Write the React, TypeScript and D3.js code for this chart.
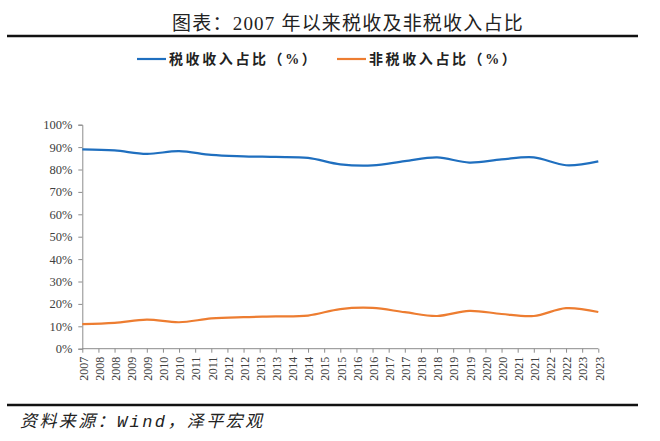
import { useEffect, useRef } from "react";
import * as d3 from "d3";

// annual values, one per year 2007..2023
const years = [
  2007, 2008, 2009, 2010, 2011, 2012, 2013, 2014, 2015, 2016, 2017, 2018,
  2019, 2020, 2021, 2022, 2023,
];
const taxShare = [
  89.0, 88.5, 87.0, 88.2, 86.5, 85.9, 85.6, 85.2, 82.3, 81.8, 83.7, 85.4,
  83.1, 84.5, 85.4, 81.9, 83.6,
];
const nonTaxShare = [
  11.0, 11.5, 13.0, 11.8, 13.5, 14.1, 14.4, 14.8, 17.7, 18.2, 16.3, 14.6,
  16.9, 15.5, 14.6, 18.1, 16.4,
];
// category axis labels (half-year slots, shown as year)
const xLabels = [
  "2007", "2008", "2008", "2009", "2009", "2010", "2010", "2011", "2011",
  "2012", "2012", "2013", "2013", "2014", "2014", "2015", "2015", "2016",
  "2016", "2017", "2017", "2018", "2018", "2019", "2019", "2020", "2020",
  "2021", "2021", "2022", "2022", "2023", "2023",
];
const yTicks = [0, 10, 20, 30, 40, 50, 60, 70, 80, 90, 100];
const seriesNames = ["税收收入占比（%）", "非税收入占比（%）"];
const seriesColors = ["#1f6fbf", "#ed7d31"];

const serif = "'Liberation Serif', 'Noto Sans CJK SC', serif";

function App() {
  const svgRef = useRef<SVGSVGElement | null>(null);
  const width = 660;
  const height = 441;
  const left = 82.3;
  const right = 598.3;
  const top = 124.7;
  const bottom = 348.7;

  useEffect(() => {
    const svg = d3.select(svgRef.current);
    svg.selectAll("*").remove();

    const xScale = d3
      .scaleLinear()
      .domain([0, xLabels.length - 1])
      .range([left, right]);
    const yScale = d3.scaleLinear().domain([0, 100]).range([bottom, top]);

    // title + rules
    svg
      .append("text")
      .attr("x", 348)
      .attr("y", 30)
      .attr("text-anchor", "middle")
      .style("font-family", serif)
      .attr("font-size", 19)
      .attr("letter-spacing", 1.2)
      .attr("fill", "#222")
      .text("图表：2007 年以来税收及非税收入占比");

    svg
      .append("line")
      .attr("x1", 7)
      .attr("x2", 638)
      .attr("y1", 36)
      .attr("y2", 36)
      .attr("stroke", "#111")
      .attr("stroke-width", 2.6);

    svg
      .append("line")
      .attr("x1", 7)
      .attr("x2", 638)
      .attr("y1", 405)
      .attr("y2", 405)
      .attr("stroke", "#111")
      .attr("stroke-width", 2.6);

    // legend
    const legendX = [137, 337];
    seriesNames.forEach((name, i) => {
      const g = svg.append("g");
      g.append("line")
        .attr("x1", legendX[i])
        .attr("x2", legendX[i] + 29)
        .attr("y1", 59)
        .attr("y2", 59)
        .attr("stroke", seriesColors[i])
        .attr("stroke-width", 2.2);
      g.append("text")
        .attr("x", legendX[i] + 32)
        .attr("y", 59)
        .attr("dy", "0.36em")
        .style("font-family", serif)
        .attr("font-size", 14)
        .attr("font-weight", 600)
        .attr("letter-spacing", 2.6)
        .attr("fill", "#222")
        .text(name);
    });

    // y axis
    const yAxis = d3
      .axisLeft(yScale)
      .tickValues(yTicks)
      .tickSize(4)
      .tickPadding(6)
      .tickFormat((d) => `${d}%`);
    const yG = svg
      .append("g")
      .attr("transform", `translate(${left}, 0)`)
      .call(yAxis)
      .attr("font-family", null);
    yG.selectAll("path, line").attr("stroke", "#8c8c8c");
    yG.selectAll("text")
      .style("font-family", serif)
      .attr("font-size", 12.5)
      .attr("fill", "#404040");

    // x axis
    const xAxis = d3
      .axisBottom(xScale)
      .tickValues(d3.range(xLabels.length))
      .tickSize(4)
      .tickFormat(() => "");
    const xG = svg
      .append("g")
      .attr("transform", `translate(0, ${bottom})`)
      .call(xAxis);
    xG.selectAll("path, line").attr("stroke", "#8c8c8c");
    xG.select("path").attr("d", `M${left},0H${right}`);

    svg
      .append("g")
      .selectAll("text")
      .data(xLabels)
      .join("text")
      .attr(
        "transform",
        (d, i) => `translate(${xScale(i) + 1}, ${bottom + 8}) rotate(-90)`
      )
      .attr("text-anchor", "end")
      .attr("dy", "0.35em")
      .style("font-family", serif)
      .attr("font-size", 12)
      .attr("fill", "#404040")
      .text((d) => d);

    // lines
    const line = d3
      .line<number>()
      .x((d, i) => xScale(i * 2))
      .y((d) => yScale(d))
      .curve(d3.curveCatmullRom.alpha(0.5));

    [taxShare, nonTaxShare].forEach((values, i) => {
      svg
        .append("path")
        .attr("d", line(values) as string)
        .attr("fill", "none")
        .attr("stroke", seriesColors[i])
        .attr("stroke-width", 2.2);
    });

    // source note
    svg
      .append("text")
      .attr("x", 20)
      .attr("y", 427)
      .style("font-family", "'Liberation Mono', 'Noto Sans CJK SC', monospace")
      .attr("font-style", "italic")
      .attr("font-size", 17)
      .attr("letter-spacing", 2.4)
      .attr("fill", "#222")
      .text("资料来源：Wind，泽平宏观");
  }, []);

  return (
    <svg
      ref={svgRef}
      width={width}
      height={height}
      style={{ position: "absolute", left: 0, top: 0, background: "#fff" }}
    ></svg>
  );
}

export default App;
